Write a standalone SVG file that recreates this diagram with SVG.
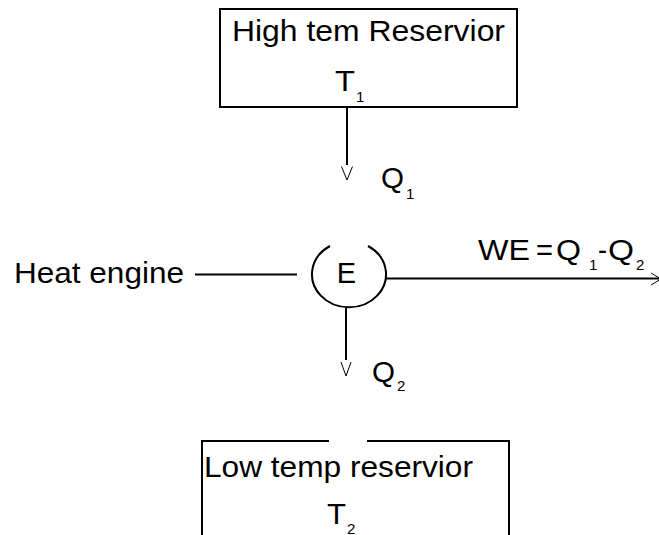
<svg xmlns="http://www.w3.org/2000/svg" width="659" height="535" viewBox="0 0 659 535">
<style>
text{font-family:"Liberation Sans",Arial,sans-serif;fill:#000}
.lb{font-size:30px}
.sb{font-size:15px}
.box{fill:none;stroke:#000;stroke-width:2}
.ln{fill:none;stroke:#000;stroke-width:2}
.ah{fill:none;stroke:#000;stroke-width:1}
</style>
<rect width="659" height="535" fill="#fff"/>
<g id="high-reservoir">
<rect class="box" x="220" y="9" width="297" height="98"/>
<text class="lb" x="232" y="41" textLength="273" lengthAdjust="spacingAndGlyphs">High tem Reservior</text>
<text class="lb" x="335" y="91" textLength="20" lengthAdjust="spacingAndGlyphs">T</text>
<text class="sb" x="356" y="102">1</text>
</g>
<g id="engine">
<path class="ln" d="M330,246 A37,33 0 1 0 368,246"/>
<text x="346.5" y="283" font-size="29" text-anchor="middle">E</text>
</g>
<g id="heat-engine-label">
<text class="lb" x="14" y="283" textLength="170" lengthAdjust="spacingAndGlyphs">Heat engine</text>
</g>
<g id="low-reservoir">
<path class="box" d="M202,535 V441 H329 M367,441 H509 V535"/>
<text class="lb" x="204" y="477" textLength="269" lengthAdjust="spacingAndGlyphs">Low temp reservior</text>
<text class="lb" x="327" y="524" textLength="19" lengthAdjust="spacingAndGlyphs">T</text>
<text class="sb" x="347" y="534">2</text>
</g>
<g id="connectors">
<line class="ln" x1="347" y1="107" x2="347" y2="165"/>
<path class="ah" d="M341.5,166.5 L347,180 L352.5,166.5"/>
<line class="ln" x1="195" y1="274.5" x2="297" y2="274.5"/>
<line class="ln" x1="385" y1="278.5" x2="659" y2="278.5"/>
<path class="ah" d="M651,273 L661,279 L651,285"/>
<line class="ln" x1="346" y1="308" x2="346" y2="360"/>
<path class="ah" d="M341,362 L346,376 L351,362"/>
</g>
<g id="labels">
<text class="lb" x="381" y="188" textLength="23" lengthAdjust="spacingAndGlyphs">Q</text>
<text class="sb" x="406" y="199">1</text>
<text class="lb" x="372" y="382" textLength="23" lengthAdjust="spacingAndGlyphs">Q</text>
<text class="sb" x="397" y="391">2</text>
<text class="lb" x="478" y="260" textLength="52" lengthAdjust="spacingAndGlyphs">WE</text>
<text class="lb" x="536" y="260" textLength="17" lengthAdjust="spacingAndGlyphs">=</text>
<text class="lb" x="556" y="260" textLength="25" lengthAdjust="spacingAndGlyphs">Q</text>
<text class="sb" x="589" y="270">1</text>
<text class="lb" x="598" y="260" textLength="9" lengthAdjust="spacingAndGlyphs">-</text>
<text class="lb" x="608" y="260" textLength="26" lengthAdjust="spacingAndGlyphs">Q</text>
<text class="sb" x="636" y="270">2</text>
</g>
</svg>
